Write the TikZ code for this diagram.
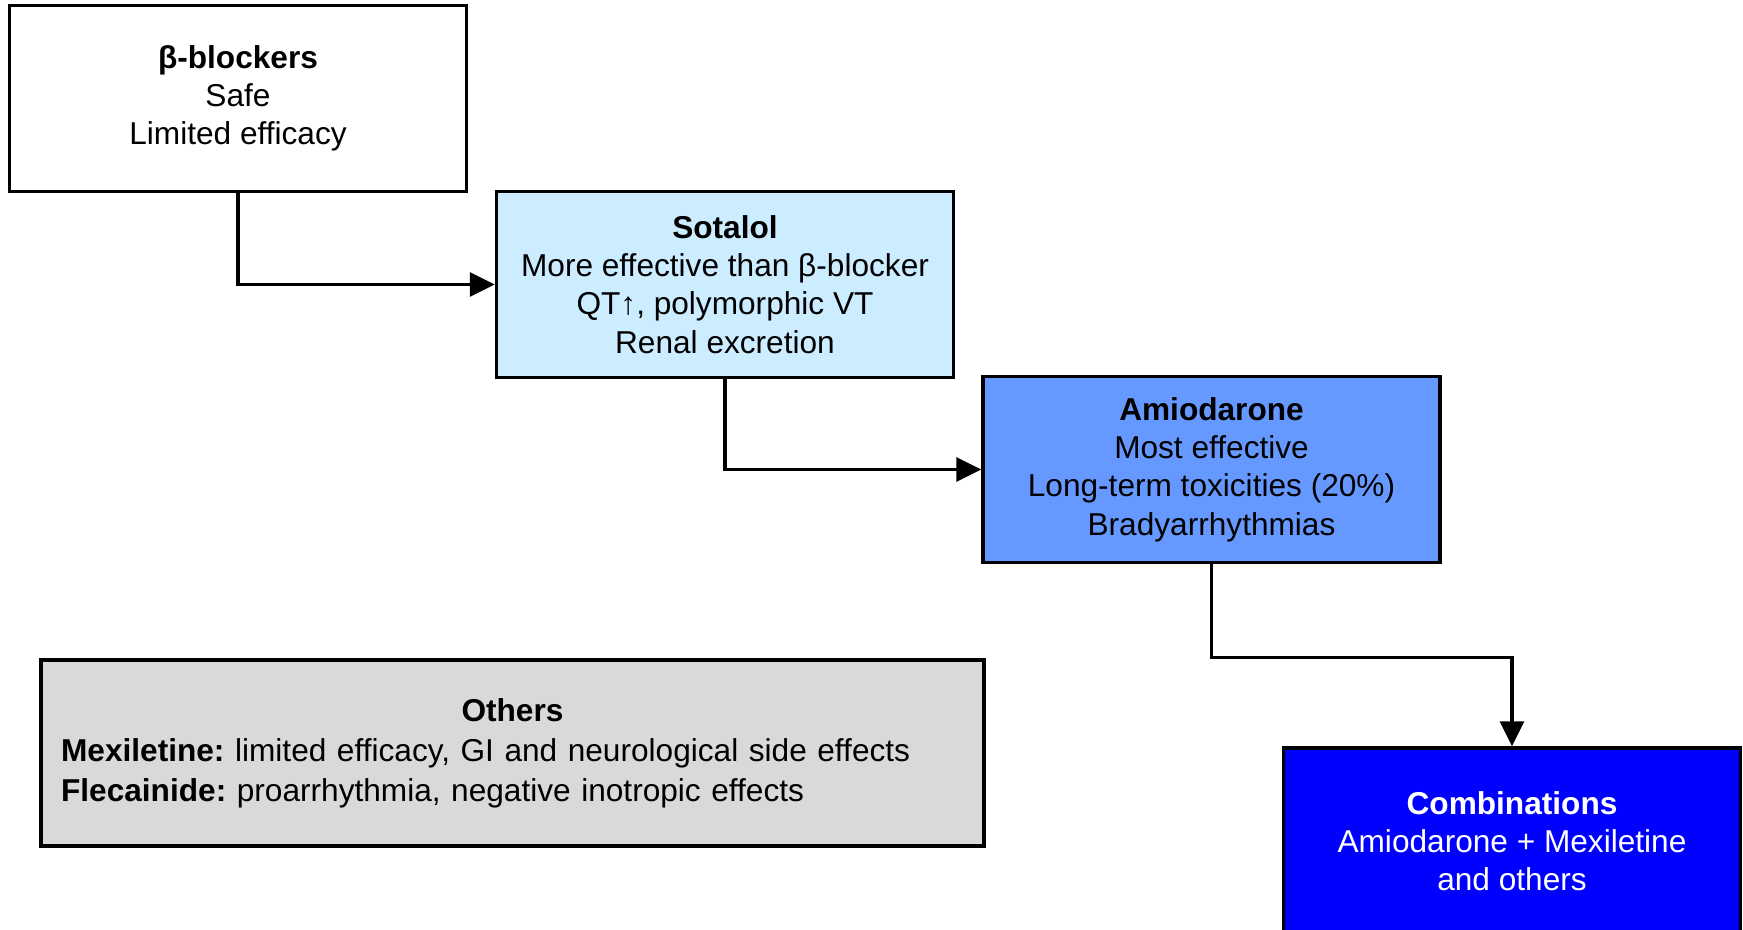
\documentclass[tikz,border=0pt]{standalone}
\usepackage{fontspec}
\setmainfont{Liberation Sans}
\usepackage{xcolor}
\usepackage{tikz}
\usetikzlibrary{arrows.meta, positioning, calc}
\definecolor{SotalolBlue}{RGB}{204, 236, 255}
\definecolor{AmioBlue}{RGB}{102, 153, 255}
\definecolor{ComboBlue}{RGB}{0, 0, 255}
\definecolor{OthersGray}{RGB}{217, 217, 217}
\frenchspacing
\tikzset{
  drugbox/.style={draw=black, line width=2pt, minimum width=9.14cm,
    minimum height=3.72cm, align=center, inner sep=0pt,
    font=\fontsize{18}{21.8}\selectfont},
  flowarrow/.style={line width=1.8pt,
    -{Triangle[length=0.5cm, width=0.48cm]}}
}

\begin{document}
\begin{tikzpicture}[x=0.02cm, y=-0.02cm]
    \useasboundingbox (0,0) rectangle (1743,929);
    \node[drugbox, fill=white] (beta) at (238,98.5)
      {\textbf{β-blockers}\\Safe\\Limited efficacy};
    \node[drugbox, fill=SotalolBlue] (sotalol) at (725,284.5)
      {\textbf{Sotalol}\\More effective than β-blocker\\QT↑, polymorphic VT\\Renal excretion};
    \node[drugbox, fill=AmioBlue] (amio) at (1211.5,469.5)
      {\textbf{Amiodarone}\\Most effective\\Long-term toxicities (20\%)\\Bradyarrhythmias};
    \node[drugbox, fill=ComboBlue, text=white] (combo) at (1512,841)
      {\textbf{Combinations}\\Amiodarone + Mexiletine\\and others};
    \node[drugbox, fill=OthersGray, minimum width=18.86cm, text width=18.06cm, align=left] (others) at (512.5,753)
      {\makebox[18.06cm][c]{\textbf{Others}}\\[1pt]
       \textbf{Mexiletine:} limited efficacy, GI and neurological side effects\\[1pt]
       \textbf{Flecainide:} proarrhythmia, negative inotropic effects};

    % connectors
    \draw[flowarrow] (beta.south) |- (sotalol.west);
    \draw[flowarrow] (sotalol.south) |- (amio.west);
    \draw[flowarrow] (amio.south) -- ++(0,93) -| (combo.north);
  \end{tikzpicture}
\end{document}
